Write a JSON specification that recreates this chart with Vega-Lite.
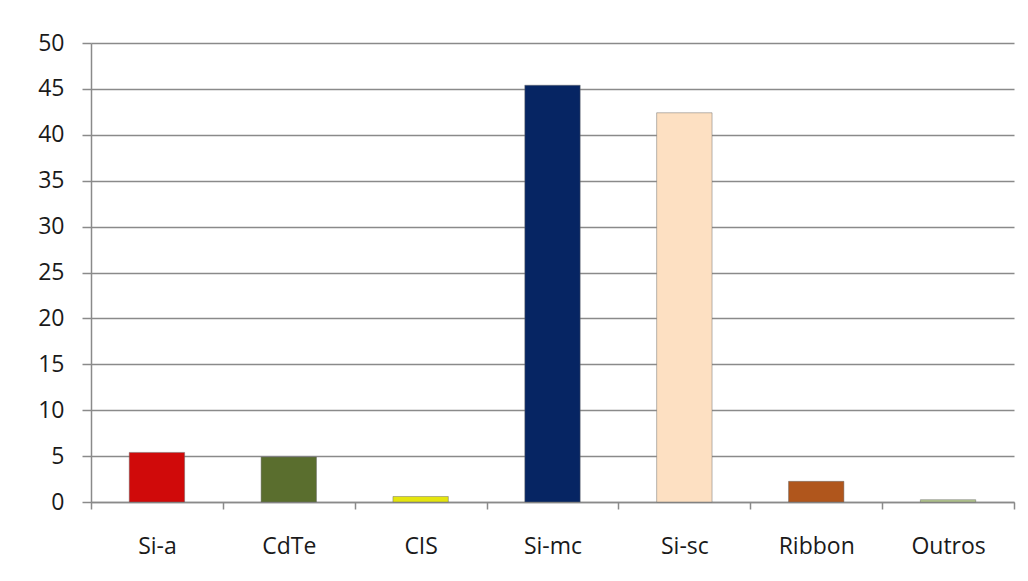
{
  "$schema": "https://vega.github.io/schema/vega-lite/v6.json",
  "autosize": "none",
  "width": 923,
  "height": 459,
  "padding": {"left": 91, "top": 43, "right": 14, "bottom": 79},
  "background": "white",
  "data": {
    "values": [
      {"tecnologia": "Si-a", "valor": 5.4, "cor": "#d00a0a"},
      {"tecnologia": "CdTe", "valor": 4.9, "cor": "#5a6e2e"},
      {"tecnologia": "CIS", "valor": 0.6, "cor": "#e5e50e"},
      {"tecnologia": "Si-mc", "valor": 45.4, "cor": "#062563"},
      {"tecnologia": "Si-sc", "valor": 42.4, "cor": "#fde0c2"},
      {"tecnologia": "Ribbon", "valor": 2.25, "cor": "#b0561c"},
      {"tecnologia": "Outros", "valor": 0.25, "cor": "#b3c78e"}
    ]
  },
  "mark": {
    "type": "bar",
    "width": {"band": 0.42},
    "stroke": "#6a6a6a",
    "strokeWidth": 0.8,
    "strokeOpacity": 0.6
  },
  "encoding": {
    "x": {
      "field": "tecnologia",
      "type": "nominal",
      "sort": null,
      "scale": {"paddingInner": 0, "paddingOuter": 0},
      "axis": {
        "title": null,
        "labelAngle": 0,
        "labelFont": "Open Sans",
        "labelFontSize": 23,
        "labelColor": "#1a1a1a",
        "labelPadding": 26,
        "tickBand": "extent",
        "tickSize": 7,
        "tickColor": "#8a8a8a",
        "tickWidth": 1.5,
        "domainColor": "#8a8a8a",
        "domainWidth": 1.5,
        "grid": false
      }
    },
    "y": {
      "field": "valor",
      "type": "quantitative",
      "scale": {"domain": [0, 50], "nice": false},
      "axis": {
        "title": null,
        "values": [0, 5, 10, 15, 20, 25, 30, 35, 40, 45, 50],
        "labelFont": "Open Sans",
        "labelFontSize": 23,
        "labelColor": "#1a1a1a",
        "labelPadding": 18,
        "tickSize": 9,
        "tickColor": "#8a8a8a",
        "tickWidth": 1.5,
        "domainColor": "#8a8a8a",
        "domainWidth": 1.5,
        "grid": true,
        "gridColor": "#8a8a8a",
        "gridWidth": 1.5
      }
    },
    "color": {"field": "cor", "type": "nominal", "scale": null, "legend": null}
  },
  "config": {"view": {"stroke": null}}
}
